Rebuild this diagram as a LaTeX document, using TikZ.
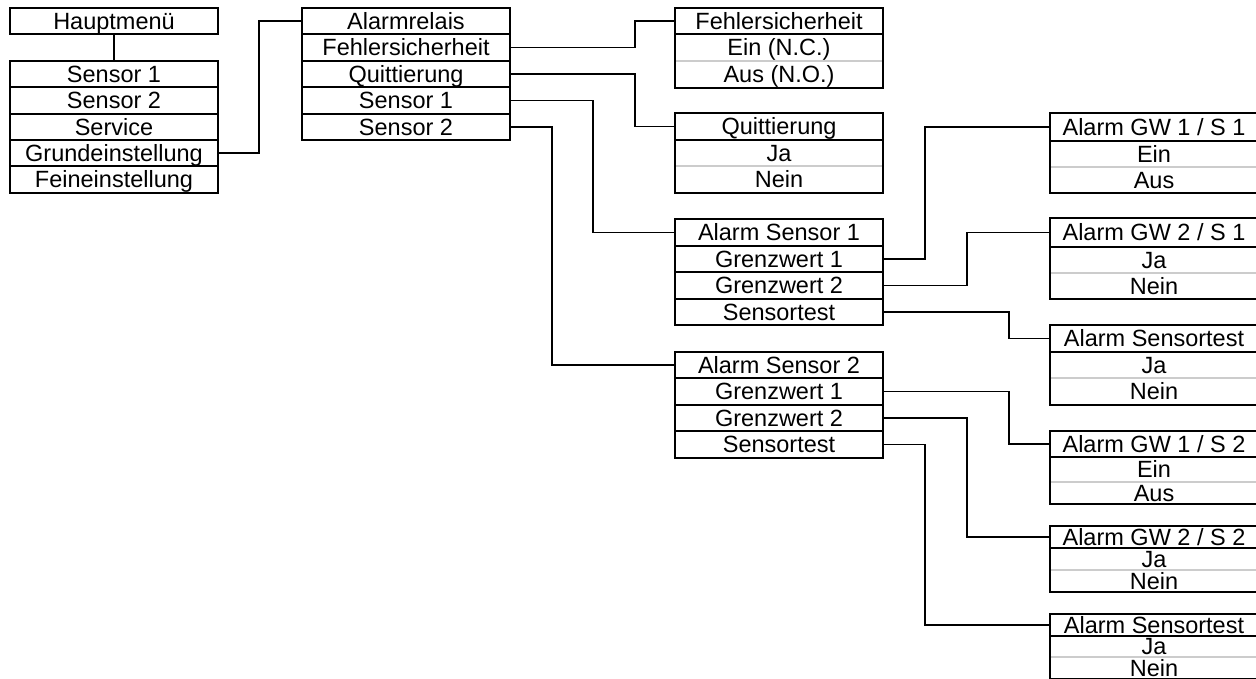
\documentclass[tikz,border=0pt]{standalone}
\usepackage{fontspec}
\setmainfont{Liberation Sans}
\tikzset{
  cell/.style={inner sep=0pt, outer sep=0pt, minimum width=208pt,
    text height=16.8pt, text depth=0pt, anchor=north west,
    font=\fontsize{23.5}{26}\selectfont},
  listcell/.style={cell, draw=black, line width=1.7pt},
  frame/.style={draw=black, line width=1.7pt},
  sep/.style={draw=black!20, line width=1.2pt},
  link/.style={draw=black, line width=1.7pt},
}
% one row of a menu list, every row framed in black
\newcommand\listrow[5]{%
  \node[listcell, minimum height={#4pt-#3pt}] (#1) at (#2,#3) {#5};}
% a setting box: title row, then two choices split by a light rule
\newcommand\optbox[9]{%
  \node[cell, minimum height={#4pt-#3pt}] (#11) at (#2,#3) {#7};
  \node[cell, minimum height={#5pt-#4pt}] (#12) at (#2,#4) {#8};
  \node[cell, minimum height={#6pt-#5pt}] (#13) at (#2,#5) {#9};
  \draw[sep] (#12.south west) -- (#12.south east);
  \draw[frame] (#11.north west) rectangle (#13.south east);
  \draw[frame] (#11.south west) -- (#11.south east);}
\begin{document}
\begin{tikzpicture}[x=1pt, y=-1pt]
\useasboundingbox (0,0) rectangle (1256,679);
\fill[white] (0,0) rectangle (1256,679);
\clip (0,0) rectangle (1256,679);

% main menu
\listrow{A}{10}{8}{34}{Hauptmenü}
\listrow{B1}{10}{61}{87}{Sensor 1}
\listrow{B2}{10}{87}{114}{Sensor 2}
\listrow{B3}{10}{114}{140}{Service}
\listrow{B4}{10}{140}{166}{Grundeinstellung}
\listrow{B5}{10}{166}{193}{Feineinstellung}

% basic settings
\listrow{C1}{302}{8}{34}{Alarmrelais}
\listrow{C2}{302}{34}{61}{Fehlersicherheit}
\listrow{C3}{302}{61}{87}{Quittierung}
\listrow{C4}{302}{87}{114}{Sensor 1}
\listrow{C5}{302}{114}{140}{Sensor 2}

% relay options
\optbox{D}{675}{8}{34}{61}{88}{Fehlersicherheit}{Ein (N.C.)}{Aus (N.O.)}
\optbox{E}{675}{113}{140}{166}{193}{Quittierung}{Ja}{Nein}

% sensor alarm menus
\listrow{F1}{675}{219}{246}{Alarm Sensor 1}
\listrow{F2}{675}{246}{272}{Grenzwert 1}
\listrow{F3}{675}{272}{299}{Grenzwert 2}
\listrow{F4}{675}{299}{325}{Sensortest}
\listrow{G1}{675}{352}{378}{Alarm Sensor 2}
\listrow{G2}{675}{378}{405}{Grenzwert 1}
\listrow{G3}{675}{405}{431}{Grenzwert 2}
\listrow{G4}{675}{431}{458}{Sensortest}

% alarm options
\optbox{H}{1050}{113}{141}{167}{193}{Alarm GW 1 / S 1}{Ein}{Aus}
\optbox{I}{1050}{218}{247}{273}{299}{Alarm GW 2 / S 1}{Ja}{Nein}
\optbox{J}{1050}{325}{352}{378}{405}{Alarm Sensortest}{Ja}{Nein}
\optbox{K}{1050}{431}{457}{482}{504}{Alarm GW 1 / S 2}{Ein}{Aus}
\optbox{L}{1050}{526}{548}{570}{592}{Alarm GW 2 / S 2}{Ja}{Nein}
\optbox{M}{1050}{614}{636}{657}{679}{Alarm Sensortest}{Ja}{Nein}

% connectors
\draw[link] (A.south) -- (B1.north);
\draw[link] (B4.east) -- ++(41,0) |- (C1.west);
\draw[link] (C2.east) -- ++(125,0) |- (D1.west);
\draw[link] (C3.east) -- ++(125,0) |- (E1.west);
\draw[link] (C4.east) -- ++(83,0) |- (F1.west);
\draw[link] (C5.east) -- ++(42,0) |- (G1.west);
\draw[link] (F2.east) -- ++(42,0) |- (H1.west);
\draw[link] (F3.east) -- ++(84,0) |- (I1.west);
\draw[link] (F4.east) -- ++(126,0) |- (J1.west);
\draw[link] (G2.east) -- ++(126,0) |- (K1.west);
\draw[link] (G3.east) -- ++(84,0) |- (L1.west);
\draw[link] (G4.east) -- ++(42,0) |- (M1.west);
\end{tikzpicture}
\end{document}
